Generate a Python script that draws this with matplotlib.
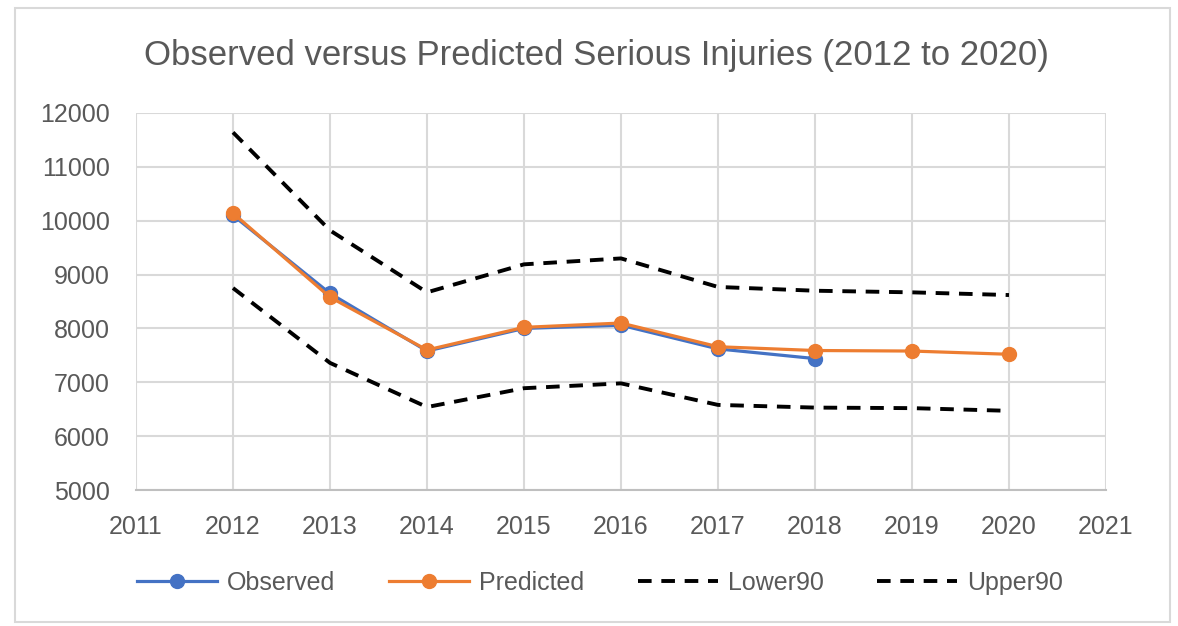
import matplotlib.pyplot as plt
from matplotlib.patches import Rectangle

# data
years = [2012, 2013, 2014, 2015, 2016, 2017, 2018, 2019, 2020]
observed = [10100, 8650, 7580, 8000, 8060, 7620, 7440]
predicted = [10140, 8580, 7600, 8020, 8100, 7660, 7590, 7580, 7520]
lower90 = [8750, 7360, 6540, 6890, 6980, 6580, 6530, 6520, 6470]
upper90 = [11640, 9820, 8670, 9190, 9300, 8770, 8700, 8670, 8620]

blue = '#4472C4'
orange = '#ED7D31'
grey_text = '#595959'

plt.rcParams['font.family'] = ['Liberation Sans', 'DejaVu Sans']

fig = plt.figure(figsize=(11.78, 6.26), dpi=100)
# light frame around the chart area
fig.patches.append(Rectangle((15/1178, 4/626), 1155/1178, 614/626, transform=fig.transFigure,
                             fill=False, edgecolor='#D9D9D9', linewidth=1.5))

ax = fig.add_axes([136/1178, 1 - 490/626, 970/1178, 377/626])

ax.plot(years[:len(observed)], observed, color=blue, linewidth=2.3, marker='o',
        markersize=10, label='Observed', zorder=3)
ax.plot(years, predicted, color=orange, linewidth=2.3, marker='o',
        markersize=10, label='Predicted', zorder=4)
ax.plot(years, lower90, color='black', linewidth=2.8, linestyle=(0, (3.5, 2.5)),
        label='Lower90', zorder=2)
ax.plot(years, upper90, color='black', linewidth=2.8, linestyle=(0, (3.5, 2.5)),
        label='Upper90', zorder=2)

ax.set_xlim(2011, 2021)
ax.set_ylim(5000, 12000)
ax.set_xticks(range(2011, 2022))
ax.set_yticks(range(5000, 12001, 1000))
ax.grid(True, color='#D9D9D9', linewidth=1.5)
ax.set_axisbelow(True)
for side in ['top', 'right', 'left']:
    ax.spines[side].set_visible(False)
ax.spines['bottom'].set_color('#BFBFBF')
ax.spines['bottom'].set_linewidth(1.5)
ax.tick_params(length=0, labelsize=18, labelcolor=grey_text)
ax.tick_params(axis='x', pad=18)
ax.tick_params(axis='y', pad=19)

fig.text(596/1178, 1 - 56/626, 'Observed versus Predicted Serious Injuries (2012 to 2020)',
         ha='center', va='center', fontsize=25, color=grey_text)

fig.legend(loc='center', bbox_to_anchor=(600/1178, 1 - 583/626), ncol=4, frameon=False,
           fontsize=18, labelcolor=grey_text, handlelength=3.2, handletextpad=0.4,
           columnspacing=2.15)

plt.savefig('out.png', dpi=100)
